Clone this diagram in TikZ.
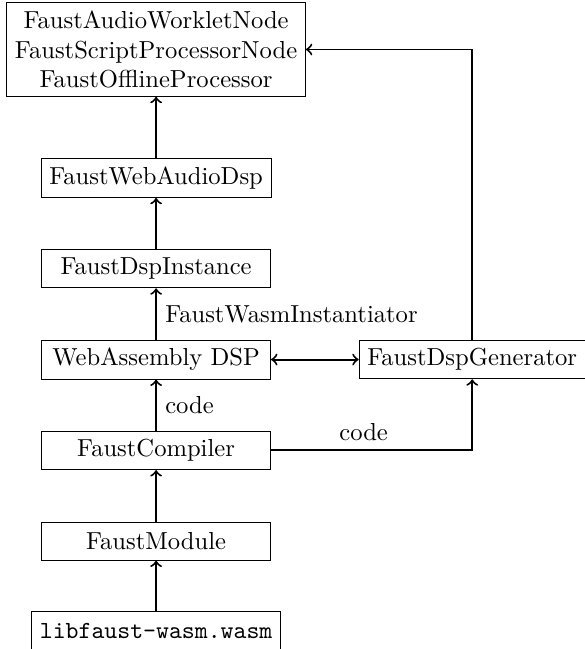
\documentclass[tikz,border=0pt]{standalone}
\usepackage{amsmath,amsfonts}
\usepackage{tikz}

\begin{document}
\begin{tikzpicture}[bnode/.style={draw, minimum height=15.5pt, inner sep=3.33pt}, cnode/.style={bnode, minimum width=3.27cm}]
    \useasboundingbox (0,0) rectangle (8.343,-9.271);
    \node[bnode, align=center] (proc) at (2.23,-0.707) {FaustAudioWorkletNode\\FaustScriptProcessorNode\\FaustOfflineProcessor};
    \node[cnode] (wad) at (2.23,-2.543) {FaustWebAudioDsp};
    \node[cnode] (inst) at (2.23,-3.839) {FaustDspInstance};
    \node[cnode] (wasm) at (2.23,-5.136) {WebAssembly DSP};
    \node[bnode] (gen) at (6.746,-5.136) {FaustDspGenerator};
    \node[cnode] (comp) at (2.23,-6.433) {FaustCompiler};
    \node[cnode] (mod) at (2.23,-7.729) {FaustModule};
    \node[cnode] (lib) at (2.23,-9.011) {\texttt{libfaust-wasm.wasm}};

   \begin{scope}[thick]
    \draw[->] (wad) edge (proc) ;
    \draw[->] (inst) edge (wad) ;
    \draw[->] (wasm) edge node [pos=0.5, right] {FaustWasmInstantiator} (inst) ;
    \draw[<->] (wasm) edge (gen) ;
    \draw[->] (comp) edge node [pos=0.5, right] {code} (wasm) ;
    \draw[->] (comp) -| node [pos=0.23, above] {code} (gen) ;
    \draw[->] (gen) |- (proc) ;
    \draw[->] (mod) edge (comp) ;
    \draw[->] (lib) edge (mod) ;
   \end{scope}
\end{tikzpicture}
\end{document}
